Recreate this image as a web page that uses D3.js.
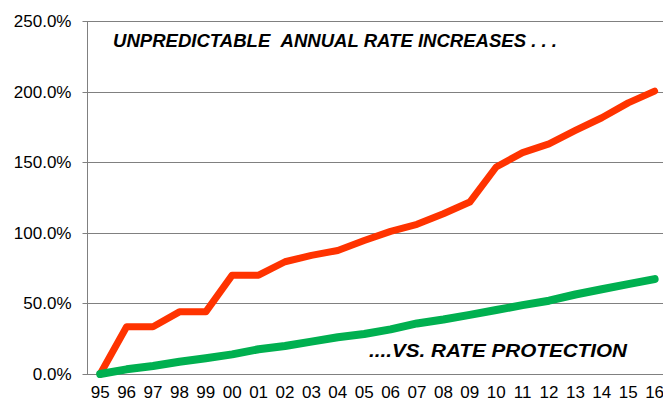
<!DOCTYPE html>
<html>
<head>
<meta charset="utf-8">
<script src="https://cdn.jsdelivr.net/npm/d3@7"></script>
<style>
  html, body { margin: 0; padding: 0; background: #fff; }
  svg { display: block; font-family: "Liberation Sans", Arial, sans-serif; }
</style>
</head>
<body>
<svg id="chart" width="663" height="400"></svg>
<script>
const years = ["95","96","97","98","99","00","01","02","03","04","05","06","07","08","09","10","11","12","13","14","15","16"];
const annualRate = [0,33.5,33.5,44,44,70,70,79.5,84,87.5,94.5,101,106,113.5,121.8,146.6,156.8,163,172.5,181.5,192,200.3];
const rateProtection = [0,3.3,5.7,8.7,11.1,13.9,17.5,19.8,22.9,26,28.3,31.6,35.8,38.6,41.9,45.3,48.8,51.9,56.3,60,63.6,67.2];
const yTicks = [0,50,100,150,200,250];
const titleTop = "UNPREDICTABLE\u00A0\u00A0ANNUAL RATE INCREASES . . .";
const titleBottom = "....VS. RATE PROTECTION";

const svg = d3.select("#chart");
const margin = {left: 87, top: 21, bottom: 26};
const height = 400;
const plotH = height - margin.top - margin.bottom; // 353
const bandW = 26.4;
const plotW = bandW * years.length;

const x = d3.scaleBand().domain(years).range([margin.left, margin.left + plotW]).padding(0);
const y = d3.scaleLinear().domain([0, 250]).range([margin.top + plotH, margin.top]);
const cx = d => x(d) + x.bandwidth() / 2;

// gridlines
svg.append("g")
  .selectAll("line").data(yTicks.filter(t => t > 0)).join("line")
  .attr("x1", margin.left).attr("x2", margin.left + plotW)
  .attr("y1", d => Math.round(y(d)) + 0.5).attr("y2", d => Math.round(y(d)) + 0.5)
  .attr("stroke", "#808080").attr("stroke-width", 1);

// y axis
const yAxis = d3.axisLeft(y).tickValues(yTicks).tickFormat(d => d.toFixed(1) + "%").tickSize(5).tickPadding(11);
const gy = svg.append("g").attr("transform", `translate(${margin.left + 0.5},0)`).call(yAxis);
gy.select(".domain").attr("stroke", "#808080").attr("d", `M0,${y(250)}V${y(0)}`);
gy.selectAll(".tick line").attr("stroke", "#808080");
gy.selectAll(".tick").attr("transform", d => `translate(0,${Math.round(y(d)) + 0.5})`);
gy.selectAll("text").attr("font-size", 17).attr("fill", "#000").attr("font-family", "Liberation Sans, Arial, sans-serif");

// x axis
const xAxis = d3.axisBottom(x).tickSize(0).tickPadding(11);
const gx = svg.append("g").attr("transform", `translate(0,${Math.round(y(0)) + 0.5})`).call(xAxis);
gx.select(".domain").attr("stroke", "#808080").attr("d", `M${margin.left},0H${margin.left + plotW}`);
gx.selectAll("text").attr("font-size", 17).attr("fill", "#000").attr("font-family", "Liberation Sans, Arial, sans-serif");

// lines
const line = d3.line().x((d, i) => cx(years[i])).y(d => y(d));
svg.append("path").datum(annualRate)
  .attr("d", line).attr("fill", "none").attr("stroke", "#FF3300")
  .attr("stroke-width", 7).attr("stroke-linejoin", "round").attr("stroke-linecap", "round");
svg.append("path").datum(rateProtection)
  .attr("d", line).attr("fill", "none").attr("stroke", "#00B050")
  .attr("stroke-width", 8).attr("stroke-linejoin", "round").attr("stroke-linecap", "round");

// annotations
svg.append("text").attr("x", 113).attr("y", 47)
  .attr("font-size", 18).attr("font-weight", "bold").attr("font-style", "italic")
  .attr("textLength", 444).attr("lengthAdjust", "spacingAndGlyphs")
  .attr("fill", "#000").text(titleTop);
svg.append("text").attr("x", 369).attr("y", 357)
  .attr("font-size", 18).attr("font-weight", "bold").attr("font-style", "italic")
  .attr("textLength", 258).attr("lengthAdjust", "spacingAndGlyphs")
  .attr("fill", "#000").text(titleBottom);
</script>
</body>
</html>
